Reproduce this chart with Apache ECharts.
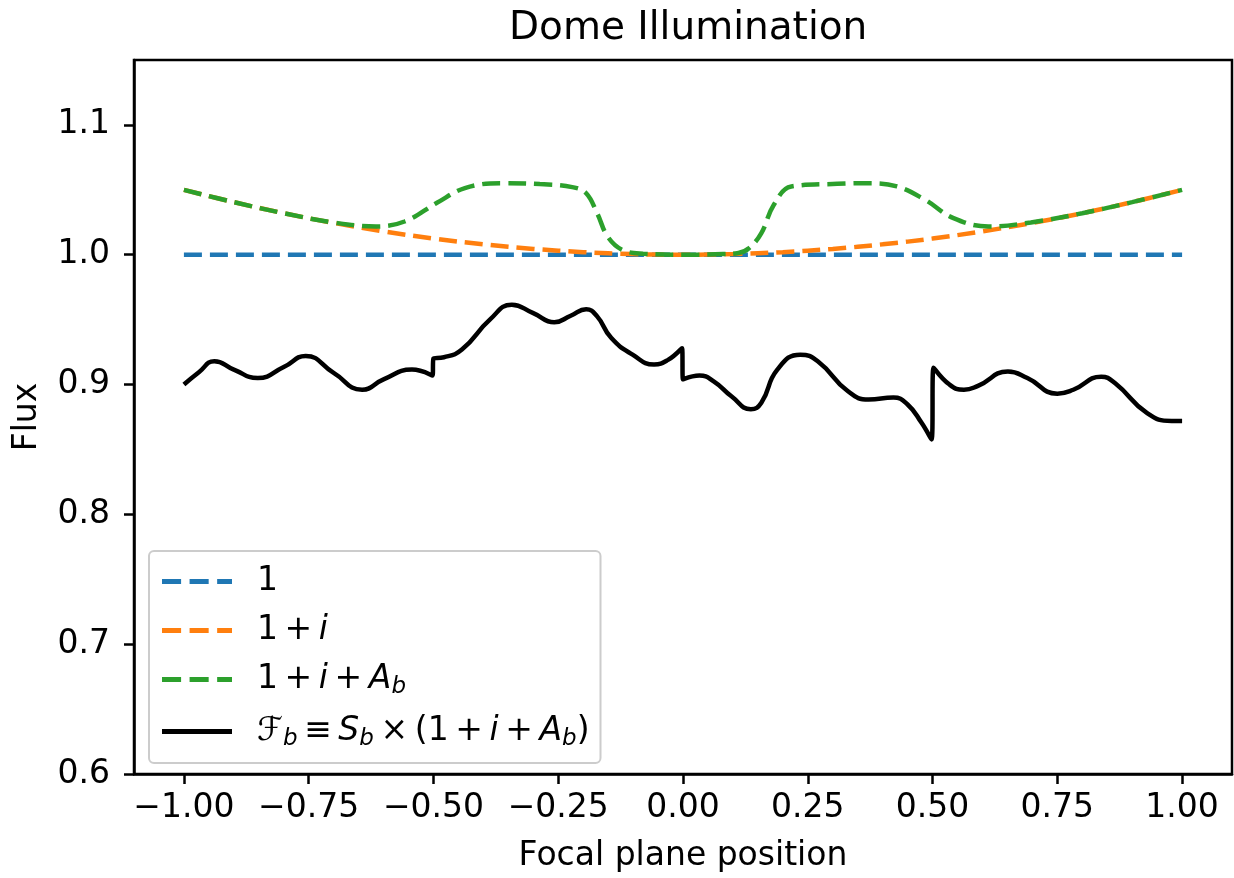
<!DOCTYPE html>
<html>
<head>
<meta charset="utf-8">
<script src="https://cdn.jsdelivr.net/npm/echarts@6/dist/echarts.min.js"></script>
<style>
html,body{margin:0;padding:0;background:#fff;}
#chart{width:1234px;height:878px;}
</style>
</head>
<body>
<div id="chart"></div>
<script>
// ---- data ----
const xTicks = [-1.0, -0.75, -0.5, -0.25, 0.0, 0.25, 0.5, 0.75, 1.0];
const yTicks = [0.6, 0.7, 0.8, 0.9, 1.0, 1.1];

// "1"
const flatX = [-1.0, 1.0];
const flatY = [1.0, 1.0];

// "1 + i"
const illumX = [-1.0, -0.9, -0.8, -0.7, -0.6, -0.5, -0.4, -0.3, -0.2, -0.1, 0.0, 0.1, 0.2, 0.3, 0.4, 0.5, 0.6, 0.7, 0.8, 0.9, 1.0];
const illumY = [1.050, 1.0405, 1.032, 1.0245, 1.018, 1.0125, 1.008, 1.0045, 1.002, 1.0005, 1.000, 1.0005, 1.002, 1.0045, 1.008, 1.0125, 1.018, 1.0245, 1.032, 1.0405, 1.050];

// "1 + i + A_b"
const domeX = [-1.0, -0.9, -0.8, -0.7, -0.615, -0.558, -0.493, -0.437, -0.365, -0.287, -0.222, -0.194, -0.172, -0.151, -0.122, -0.08, 0.0, 0.08, 0.111, 0.132, 0.157, 0.182, 0.217, 0.309, 0.372, 0.4286, 0.485, 0.542, 0.612, 0.697, 0.8, 0.9, 1.0];
const domeY = [1.050, 1.0405, 1.032, 1.0248, 1.0218, 1.0256, 1.040, 1.0513, 1.0551, 1.0544, 1.0521, 1.0474, 1.032, 1.014, 1.0038, 1.0008, 1.000, 1.0005, 1.0013, 1.005, 1.0167, 1.0385, 1.0526, 1.0546, 1.0551, 1.0526, 1.0423, 1.0282, 1.0218, 1.0249, 1.032, 1.0405, 1.050];

// "F_b = S_b x (1 + i + A_b)"
const fluxX = [-1.0, -0.97, -0.939, -0.9, -0.852, -0.8, -0.756, -0.7, -0.643, -0.6, -0.543, -0.502, -0.5, -0.479, -0.443, -0.387, -0.343, -0.30, -0.258, -0.225, -0.194, -0.172, -0.144, -0.101, -0.058, -0.030, -0.002, 0.0, 0.033, 0.0615, 0.097, 0.136, 0.157, 0.189, 0.235, 0.270, 0.330, 0.372, 0.4216, 0.450, 0.478, 0.498, 0.502, 0.534, 0.563, 0.591, 0.651, 0.690, 0.750, 0.782, 0.838, 0.866, 0.930, 0.979, 1.0];
const fluxY = [0.900, 0.9095, 0.918, 0.9115, 0.905, 0.9135, 0.922, 0.909, 0.896, 0.904, 0.9115, 0.907, 0.920, 0.921, 0.927, 0.950, 0.9615, 0.955, 0.948, 0.953, 0.958, 0.9525, 0.936, 0.923, 0.9155, 0.919, 0.928, 0.904, 0.907, 0.9025, 0.891, 0.881, 0.886, 0.9115, 0.923, 0.918, 0.895, 0.8885, 0.890, 0.8846, 0.8705, 0.8577, 0.913, 0.900, 0.896, 0.899, 0.910, 0.905, 0.893, 0.896, 0.906, 0.901, 0.878, 0.872, 0.872];

const names = ['1', '1 + i', '1 + i + A_b', 'F_b = S_b x (1 + i + A_b)'];
const SP = '\u2009';
const legendRich = {
  '1': '{n|1}',
  '1 + i': '{n|1' + SP + '+' + SP + '}{it|i}',
  '1 + i + A_b': '{n|1' + SP + '+' + SP + '}{it|i}{n|' + SP + '+' + SP + '}{it|A}{sub|b}',
  'F_b = S_b x (1 + i + A_b)': '{it|\u2131}{sub|b}{n|' + SP + '\u2261' + SP + '}{it|S}{sub|b}{n|' + SP + '\u00d7' + SP + '(1' + SP + '+' + SP + '}{it|i}{n|' + SP + '+' + SP + '}{it|A}{sub|b}{n|)}'
};
const dashIcon = 'path://M0,0L18,0L18,5L0,5Z M26,0L44,0L44,5L26,5Z M52,0L66,0L66,5L52,5Z';
const solidIcon = 'path://M0,0L70,0L70,6L0,6Z';
const icons = [dashIcon, dashIcon, dashIcon, solidIcon];

const pairs = (xs, ys) => xs.map((x, k) => [x, ys[k]]);
const FONT = 'DejaVu Sans';
const dash = [18, 8];

const chart = echarts.init(document.getElementById('chart'), null, {renderer: 'canvas'});
chart.setOption({
  animation: false,
  backgroundColor: '#ffffff',
  title: {
    text: 'Dome Illumination',
    left: 504, top: 4,
    textStyle: {fontFamily: FONT, fontSize: 39, fontWeight: 'normal', color: '#000'}
  },
  grid: {left: 134, right: 2, top: 60, bottom: 103, show: true, borderColor: '#000', borderWidth: 2.5, backgroundColor: 'transparent'},
  xAxis: {
    type: 'value', min: -1.1, max: 1.1,
    name: 'Focal plane position', nameLocation: 'middle', nameGap: 66,
    nameTextStyle: {fontFamily: FONT, fontSize: 33, color: '#000'},
    axisLine: {show: true, onZero: false, lineStyle: {color: '#000', width: 2.5}},
    axisTick: {show: true, inside: false, length: 10, lineStyle: {color: '#000', width: 2.5}, customValues: xTicks},
    axisLabel: {fontFamily: FONT, fontSize: 33, color: '#000', margin: 18, customValues: xTicks,
      formatter: v => (v < 0 ? '\u2212' : '') + Math.abs(v).toFixed(2)},
    splitLine: {show: false}
  },
  yAxis: {
    type: 'value', min: 0.6, max: 1.15,
    name: 'Flux', nameLocation: 'middle', nameGap: 90,
    nameTextStyle: {fontFamily: FONT, fontSize: 33, color: '#000'},
    axisLine: {show: true, onZero: false, lineStyle: {color: '#000', width: 2.5}},
    axisTick: {show: true, inside: false, length: 10, lineStyle: {color: '#000', width: 2.5}, customValues: yTicks},
    axisLabel: {fontFamily: FONT, fontSize: 33, color: '#000', margin: 24, customValues: yTicks,
      formatter: v => v.toFixed(1)},
    splitLine: {show: false}
  },
  legend: {
    orient: 'vertical', left: 149, top: 551,
    padding: [14, 11, 12, 13],
    itemGap: 16, itemWidth: 70, itemHeight: 5,
    symbolKeepAspect: false,
    backgroundColor: 'rgba(255,255,255,0.8)',
    borderColor: '#cccccc', borderWidth: 2, borderRadius: 5,
    data: names.map((n, k) => ({name: n, icon: icons[k]})),
    formatter: name => legendRich[name],
    textStyle: {
      fontFamily: FONT, fontSize: 33, color: '#000', padding: [0, 0, 0, 20],
      rich: {
        n: {fontFamily: FONT, fontSize: 33, lineHeight: 39, color: '#000'},
        it: {fontFamily: FONT, fontSize: 33, fontStyle: 'italic', lineHeight: 39, color: '#000'},
        sub: {fontFamily: FONT, fontSize: 23, fontStyle: 'italic', lineHeight: 24, verticalAlign: 'bottom', color: '#000'}
      }
    }
  },
  series: [
    {name: names[0], type: 'line', data: pairs(flatX, flatY), symbol: 'none', showSymbol: false,
      lineStyle: {color: '#1f77b4', width: 4.5, type: dash}, itemStyle: {color: '#1f77b4'}},
    {name: names[1], type: 'line', data: pairs(illumX, illumY), symbol: 'none', showSymbol: false, smooth: 0.4,
      lineStyle: {color: '#ff7f0e', width: 4.5, type: dash}, itemStyle: {color: '#ff7f0e'}},
    {name: names[2], type: 'line', data: pairs(domeX, domeY), symbol: 'none', showSymbol: false, smooth: 0.4,
      lineStyle: {color: '#2ca02c', width: 4.5, type: dash}, itemStyle: {color: '#2ca02c'}},
    {name: names[3], type: 'line', data: pairs(fluxX, fluxY), symbol: 'none', showSymbol: false, smooth: 0.5,
      lineStyle: {color: '#000000', width: 4.5, type: 'solid'}, itemStyle: {color: '#000000'}}
  ]
});
</script>
</body>
</html>
